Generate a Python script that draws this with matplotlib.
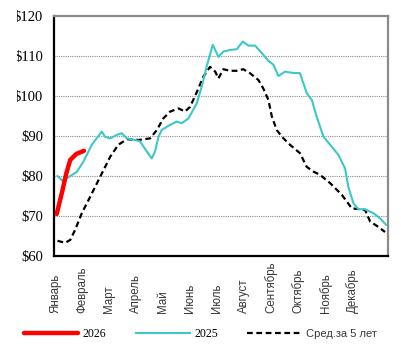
import numpy as np
import matplotlib
matplotlib.use('Agg')
import matplotlib.pyplot as plt
from matplotlib.patches import Rectangle

# ── Data (x in months from 1 January) ────────────────────────────────────────
months = ['Январь', 'Февраль', 'Март', 'Апрель', 'Май', 'Июнь', 'Июль',
          'Август', 'Сентябрь', 'Октябрь', 'Ноябрь', 'Декабрь']

x_2026 = [0.06, 0.26, 0.41, 0.56, 0.78, 1.07]
y_2026 = [70.5, 76.0, 80.5, 84.0, 85.5, 86.3]

x_2025 = [0.09, 0.27, 0.56, 0.80, 1.05, 1.36, 1.73, 1.85, 2.04, 2.29, 2.47, 2.66,
          3.09, 3.15, 3.40, 3.58, 3.70, 3.83, 3.95, 4.26, 4.51, 4.69, 4.94, 5.25,
          5.43, 5.61, 5.84, 6.05, 6.23, 6.48, 6.73, 6.95, 7.16, 7.41, 7.66, 7.90,
          8.09, 8.27, 8.52, 8.77, 9.07, 9.32, 9.51, 9.69, 9.94, 10.19, 10.49, 10.74,
          10.86, 11.05, 11.23, 11.48, 11.79, 12.04, 12.26]
y_2025 = [80.0, 78.8, 80.0, 81.0, 83.6, 87.8, 91.1, 89.8, 89.4, 90.3, 90.7, 89.4,
          88.8, 88.6, 86.1, 84.4, 86.1, 89.8, 91.5, 92.8, 93.6, 93.2, 94.4, 98.2,
          102.3, 107.3, 112.8, 109.8, 111.1, 111.5, 111.7, 113.6, 112.6, 112.6, 110.7, 108.8,
          107.8, 105.0, 106.1, 105.8, 105.7, 100.7, 99.0, 94.8, 89.8, 87.8, 85.3, 81.9,
          77.3, 73.2, 71.7, 71.7, 70.7, 69.4, 67.8]

x_avg5 = [0.09, 0.37, 0.56, 0.74, 0.99, 1.30, 1.67, 2.04, 2.34, 2.66, 3.09, 3.52,
          3.77, 4.01, 4.26, 4.57, 4.81, 5.00, 5.25, 5.49, 5.74, 5.93, 6.05, 6.23,
          6.48, 6.73, 6.97, 7.22, 7.53, 7.71, 7.90, 8.03, 8.21, 8.40, 8.70, 9.07,
          9.32, 9.57, 9.81, 10.19, 10.62, 10.99, 11.30, 11.48, 11.67, 11.97, 12.22]
y_avg5 = [63.8, 63.3, 64.0, 66.5, 70.7, 74.8, 79.8, 84.8, 87.8, 89.2, 89.0, 89.4,
          91.5, 94.4, 96.1, 96.9, 96.1, 97.3, 101.0, 104.8, 107.3, 106.1, 104.4, 106.7,
          106.3, 106.3, 106.7, 105.7, 104.0, 101.9, 99.0, 94.8, 91.5, 89.8, 87.8, 85.7,
          82.3, 81.1, 80.3, 78.2, 75.3, 71.9, 71.7, 71.5, 68.6, 67.3, 66.0]

y_ticks = [60, 70, 80, 90, 100, 110, 120]

# ── Figure ───────────────────────────────────────────────────────────────────
W, H = 401, 351
fig = plt.figure(figsize=(W / 100, H / 100), dpi=100)
ax = fig.add_axes([54 / W, 1 - 256 / H, (388 - 54) / W, (256 - 16) / H])

ax.plot(x_avg5, y_avg5, color='black', lw=1.6, dashes=(2.6, 1.6),
        label='Сред.за 5 лет', zorder=3)
ax.plot(x_2025, y_2025, color='#3CC8C8', lw=1.5, label='2025', zorder=4)
ax.plot(x_2026, y_2026, color='#FF0000', lw=3.2, solid_capstyle='round',
        label='2026', zorder=5)

ax.set_xlim(-0.04, 12.33)
ax.set_ylim(60, 120)

ax.set_yticks(y_ticks)
ax.set_yticklabels([f'${v}' for v in y_ticks], family='Liberation Serif',
                   fontsize=10.5, color='black')
ax.tick_params(axis='y', length=0, pad=8)

ax.set_xticks(range(len(months)))
ax.set_xticklabels(months, rotation=90, va='bottom', ha='center',
                   family='Liberation Sans', fontsize=8.3, color='#383838')
ax.tick_params(axis='x', length=0, pad=41)

for v in y_ticks[1:-1]:
    ax.axhline(v, color='#8c8c8c', lw=0.8, ls=(0, (1, 1)), zorder=1)

for side in ['left', 'bottom']:
    ax.spines[side].set_color('black')
    ax.spines[side].set_linewidth(1.6)
for side in ['top', 'right']:
    ax.spines[side].set_color('#8a8a8a')
    ax.spines[side].set_linewidth(1.6)

# left edge of the source image cuts the "$" of the three-digit labels
fig.add_artist(Rectangle((0, 0), 17 / W, 1, transform=fig.transFigure,
                         facecolor='white', edgecolor='none', zorder=10))

# ── Legend ───────────────────────────────────────────────────────────────────
h, l = ax.get_legend_handles_labels()
order = [2, 1, 0]
leg = fig.legend([h[i] for i in order], [l[i] for i in order],
                 loc='center left', bbox_to_anchor=(24 / W, 1 - 334 / H),
                 ncol=3, frameon=False, borderpad=0, borderaxespad=0,
                 handlelength=4.6, handletextpad=0.35, columnspacing=2.5,
                 prop={'family': 'Liberation Serif', 'size': 8.5})
texts = leg.get_texts()
texts[2].set_family('Liberation Sans')
texts[2].set_fontsize(8)
texts[2].set_color('#383838')

fig.savefig('out.png', dpi=100, facecolor='white')
